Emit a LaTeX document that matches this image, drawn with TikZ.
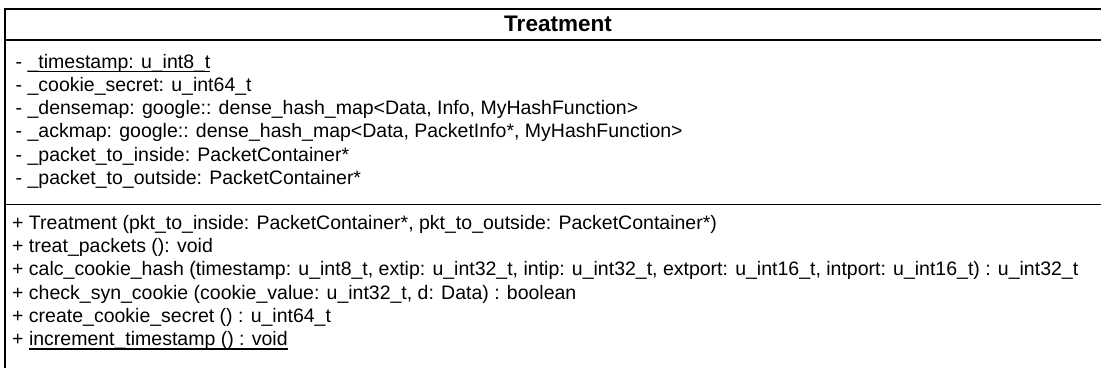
\documentclass[tikz,border=0pt]{standalone}
\usepackage{fontspec}
\setmainfont{Liberation Sans}
\newcommand\ulbar[1]{\leavevmode\setbox0\hbox{#1}\rlap{\rule[-4.2pt]{\wd0}{1.6pt}}\box0}
\begin{document}
\begin{tikzpicture}[x=1pt,y=-1pt,
        member/.style={anchor=base west,inner sep=0pt,font=\fontsize{19.5}{23}\selectfont},
        frame/.style={line width=1.5pt}]
            \useasboundingbox (0,0) rectangle (1101,367);
            \clip (0,0) rectangle (1101,367);
            \coordinate (NW) at (5,9);
            \coordinate (SE) at (1112,380);
            \coordinate (TL) at (5,40);
            \coordinate (TR) at (1112,40);
            \coordinate (ML) at (5,204.5);
            \coordinate (MR) at (1112,204.5);
            \draw[frame] (NW) rectangle (SE);
            \draw[frame] (TL)--(TR) (ML)--(MR);
            \node[anchor=base,inner sep=0pt,font=\bfseries\fontsize{22.5}{26}\selectfont] (title) at (558,31.7) {Treatment};
            % attributes
            \node[member] (timestamp) at (15.5,68) {- \ulbar{\_timestamp: u\_int8\_t}};
            \node[member] (secret) at (15.5,91.3) {- \_cookie\_secret: u\_int64\_t};
            \node[member] (densemap) at (15.5,114.6) {- \_densemap: google:: dense\_hash\_map<Data, Info, MyHashFunction>};
            \node[member] (ackmap) at (15.5,137.9) {- \_ackmap: google:: dense\_hash\_map<Data, PacketInfo*, MyHashFunction>};
            \node[member] (toinside) at (15.5,161.2) {- \_packet\_to\_inside: PacketContainer*};
            \node[member] (tooutside) at (15.5,184.5) {- \_packet\_to\_outside: PacketContainer*};
            % operations
            \node[member] (ctor) at (12,229.3) {+ Treatment (pkt\_to\_inside: PacketContainer*, pkt\_to\_outside: PacketContainer*)};
            \node[member] (treat) at (12,252.6) {+ treat\_packets (): void};
            \node[member] (hash) at (12,275.9) {+ calc\_cookie\_hash (timestamp: u\_int8\_t, extip: u\_int32\_t, intip: u\_int32\_t, extport: u\_int16\_t, intport: u\_int16\_t) : u\_int32\_t};
            \node[member] (check) at (12,299.2) {+ check\_syn\_cookie (cookie\_value: u\_int32\_t, d: Data) : boolean};
            \node[member] (create) at (12,322.5) {+ create\_cookie\_secret () : u\_int64\_t};
            \node[member] (increment) at (12,345.8) {+ \ulbar{increment\_timestamp () : void}};
        \end{tikzpicture}
\end{document}
